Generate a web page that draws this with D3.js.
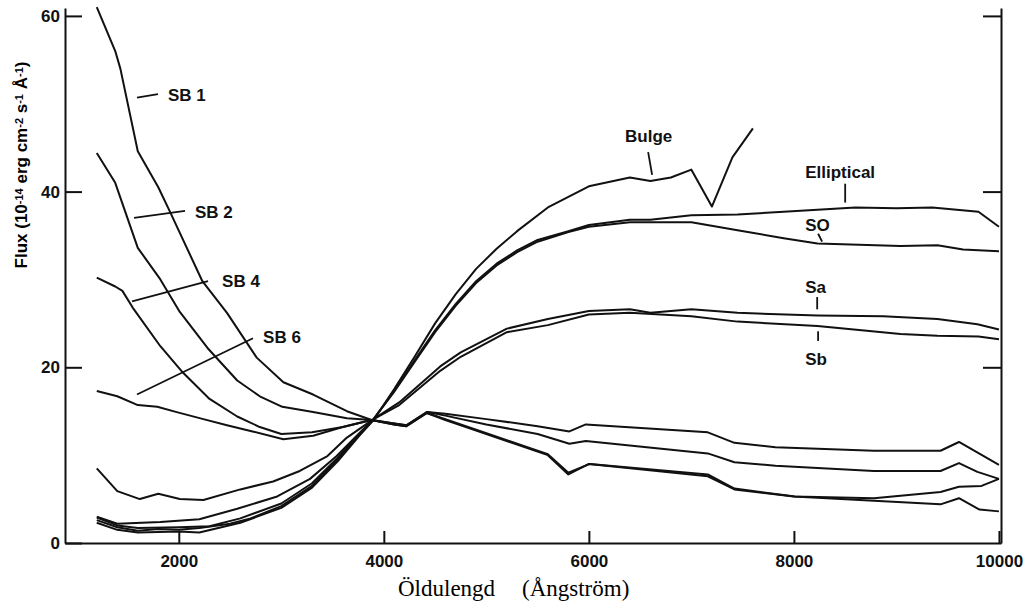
<!DOCTYPE html>
<html>
<head>
<meta charset="utf-8">
<script src="https://cdn.jsdelivr.net/npm/d3@7"></script>
<style>
  body { margin: 0; background: #fff; }
  .curve { fill: none; stroke: #111; stroke-width: 2; stroke-linejoin: round; }
  .leader { stroke: #111; stroke-width: 1.8; }
  .lbl { font-family: 'Liberation Sans', Arial, sans-serif; font-weight: bold; font-size: 17px; fill: #111; }
  .axis text { font-family: 'Liberation Sans', Arial, sans-serif; font-weight: bold; font-size: 17px; fill: #111; }
  .axis path, .axis line { stroke: #111; stroke-width: 2; }
</style>
</head>
<body>
<div id="chart"></div>
<script>
'use strict';

//#region data - [wavelength (Angstrom), flux]
const sb1 = [[1200,61],[1380,56],[1430,54],[1600,44.6],[1800,40.5],[1910,37.8],[2230,29.8],[2470,26.2],[2760,21.1],[3020,18.3],[3310,16.9],[3640,15.0],[3880,14.0],
  [4100,13.5],[4220,13.3],[4420,14.8],[4600,14.0],[5000,12.4],[5400,10.8],[5600,10.0],[5800,7.8],[6000,9.0],[7160,7.6],[7420,6.1],[8000,5.3],[8780,4.8],[9430,4.4],[9610,5.1],[9810,3.8],[10000,3.6]];
const sb2 = [[1200,44.4],[1380,41.0],[1600,33.6],[1820,30.0],[2010,26.3],[2280,22.2],[2570,18.5],[2790,16.7],[3010,15.5],[3310,14.9],[3640,14.2],[3880,14.0],
  [4100,13.5],[4220,13.3],[4420,14.8],[4600,14.1],[5000,12.5],[5400,10.9],[5600,10.1],[5800,8.0],[6010,9.0],[7160,7.8],[7420,6.2],[8010,5.3],[8780,5.1],[9430,5.8],[9610,6.4],[9830,6.5],[10000,7.3]];
const sb4 = [[1200,30.2],[1380,29.2],[1450,28.7],[1550,26.8],[1820,22.4],[2040,19.4],[2300,16.4],[2570,14.4],[2790,13.2],[3000,12.4],[3300,12.6],[3600,13.2],[3880,14.0],
  [4100,13.6],[4220,13.4],[4420,14.9],[4600,14.5],[5000,13.5],[5500,12.4],[5810,11.3],[5970,11.6],[7160,10.2],[7420,9.2],[7820,8.8],[8780,8.2],[9430,8.2],[9610,9.1],[9790,8.1],[10000,7.3]];
const sb6 = [[1200,17.3],[1400,16.7],[1600,15.7],[1790,15.5],[1980,14.9],[2240,14.1],[2470,13.4],[2720,12.7],[3020,11.8],[3310,12.2],[3600,13.2],[3880,14.0],
  [4100,13.6],[4220,13.4],[4420,14.9],[4600,14.7],[5000,14.1],[5500,13.3],[5810,12.7],[5970,13.5],[7160,12.6],[7420,11.4],[7820,10.9],[8780,10.5],[9430,10.5],[9610,11.5],[10000,8.9]];

const elliptical = [[1200,2.6],[1400,1.8],[1600,1.4],[1800,1.6],[2000,1.5],[2200,1.7],[2500,2.2],[2700,2.8],[3000,4.2],[3300,6.5],[3550,9.5],[3760,12.3],[3900,14.1],
  [4100,17.3],[4300,20.8],[4500,24.2],[4700,27.2],[4900,29.8],[5100,31.8],[5300,33.3],[5500,34.5],[5800,35.5],[6000,36.2],[6400,36.8],[6600,36.8],[7000,37.3],[7450,37.4],[7900,37.7],[8600,38.2],[9000,38.1],[9350,38.2],[9800,37.7],[10000,36.0]];
const s0 = [[1200,2.9],[1400,2.0],[1600,1.7],[2000,1.8],[2300,1.9],[2600,2.8],[3000,4.5],[3300,6.8],[3550,9.7],[3760,12.4],[3900,14.1],
  [4100,17.2],[4300,20.6],[4500,24.0],[4700,27.0],[4900,29.6],[5100,31.6],[5300,33.1],[5500,34.3],[5800,35.4],[6000,36.0],[6400,36.5],[7000,36.5],[7450,35.6],[7900,34.7],[8230,34.1],[9040,33.8],[9400,33.9],[9650,33.4],[10000,33.2]];
const bulge = [[1200,2.3],[1400,1.5],[1600,1.2],[2000,1.3],[2200,1.2],[2600,2.3],[3000,4.0],[3300,6.3],[3550,9.3],[3760,12.2],[3900,14.0],
  [4100,17.5],[4300,21.2],[4500,25.0],[4700,28.3],[4900,31.2],[5100,33.5],[5300,35.5],[5600,38.2],[6000,40.6],[6400,41.6],[6600,41.2],[6800,41.6],[7000,42.5],[7200,38.3],[7400,43.9],[7600,47.2]];
const sa = [[1200,3.0],[1400,2.2],[1820,2.4],[2200,2.7],[2570,3.9],[2960,5.3],[3280,7.3],[3540,9.9],[3770,12.6],[3900,14.1],
  [4150,16.0],[4550,20.1],[4750,21.7],[5200,24.4],[5600,25.5],[6000,26.4],[6400,26.6],[6600,26.2],[7000,26.6],[7450,26.2],[8230,25.9],[8870,25.8],[9400,25.5],[9790,24.9],[10000,24.3]];
const sb = [[1200,8.5],[1400,5.9],[1620,5.0],[1800,5.6],[2010,5.0],[2240,4.9],[2600,6.1],[2920,7.0],[3180,8.2],[3450,9.9],[3640,12.0],[3900,14.1],
  [4150,15.7],[4550,19.6],[4750,21.2],[5200,24.0],[5600,24.8],[6000,26.0],[6400,26.2],[7000,25.8],[7450,25.2],[8230,24.7],[9040,23.8],[9400,23.6],[9800,23.5],[10000,23.2]];

const seriesNames = ['SB 1', 'SB 2', 'SB 4', 'SB 6', 'Bulge', 'Elliptical', 'SO', 'Sa', 'Sb'];
const seriesData  = [sb1, sb2, sb4, sb6, bulge, elliptical, s0, sa, sb];

//label anchor [x, y] and leader line [x1, y1, x2, y2], data units
const labelPos = [[1895,50.3],[2158,37.0],[2422,29.1],[2822,22.8],[6353,45.6],[8110,41.5],[8110,35.5],[8110,28.5],[8110,20.3]];
const leaders  = [[1592,50.7,1797,51.1],[1563,37.0,2061,37.8],[1544,27.5,2285,29.8],[1592,16.9,2724,23.3],
  [6578,44.5,6617,41.9],[8500,40.9,8500,38.75],[8236,35.2,8275,34.3],[8227,28.0,8227,26.6],[8236,24.1,8236,23.0]];

const xTicks = [2000, 4000, 6000, 8000, 10000];
const yTicks = [0, 20, 40, 60];
//#endregion

const width = 1029, height = 608;
const margin = {top: 8, right: 28, bottom: 65, left: 65};

const svg = d3.select('#chart').append('svg').attr('width', width).attr('height', height);

const x = d3.scaleLinear().domain([890, 10020]).range([margin.left, width - margin.right]);
const y = d3.scaleLinear().domain([0, 60.9]).range([height - margin.bottom, margin.top]);

//axes - ticks point inward, no top frame
svg.append('g').attr('class', 'axis').attr('transform', `translate(0,${y(0)})`)
  .call(d3.axisBottom(x).tickValues(xTicks).tickFormat(d3.format('d')).tickSizeInner(-12).tickSizeOuter(0).tickPadding(12));

svg.append('g').attr('class', 'axis').attr('transform', `translate(${x.range()[0]},0)`)
  .call(d3.axisLeft(y).tickValues(yTicks).tickSizeInner(-17).tickSizeOuter(0).tickPadding(5));

svg.append('g').attr('class', 'axis').attr('transform', `translate(${x.range()[1]},0)`)
  .call(d3.axisRight(y).tickValues(yTicks.slice(1)).tickFormat('').tickSizeInner(-18).tickSizeOuter(0));

svg.selectAll('.axis .domain').attr('stroke-width', 2.2);

//the spectra
const line = d3.line().x(d => x(d[0])).y(d => y(d[1]));

svg.append('g').selectAll('path').data(seriesData).join('path')
  .attr('class', 'curve').attr('d', line);

//leader lines and labels
svg.append('g').selectAll('line').data(leaders).join('line')
  .attr('class', 'leader')
  .attr('x1', d => x(d[0])).attr('y1', d => y(d[1]))
  .attr('x2', d => x(d[2])).attr('y2', d => y(d[3]));

svg.append('g').selectAll('text').data(labelPos).join('text')
  .attr('class', 'lbl')
  .attr('x', d => x(d[0])).attr('y', d => y(d[1]))
  .text((d, i) => seriesNames[i]);

//y axis title with superscripts
const yt = svg.append('text')
  .attr('transform', 'translate(27,165) rotate(-90)')
  .attr('text-anchor', 'middle')
  .style('font-family', "'Liberation Sans', Arial, sans-serif")
  .style('font-weight', 'bold').style('font-size', '17px');
const ytParts = [['Flux (10', ''], ['-14', 'sup'], [' erg cm', ''], ['-2', 'sup'], [' s', ''], ['-1', 'sup'], [' Å', ''], ['-1', 'sup'], [')', '']];
ytParts.forEach(p => {
  const t = yt.append('tspan').text(p[0]);
  if (p[1] === 'sup') t.attr('baseline-shift', '40%').style('font-size', '11px');
});

//x axis title
const xt = svg.append('text')
  .attr('y', 596)
  .style('font-family', "'Liberation Serif', 'Times New Roman', serif")
  .style('font-size', '23px');
xt.append('tspan').attr('x', 398).text('Öldulengd');
xt.append('tspan').attr('x', 522).text('(Ångström)');
</script>
</body>
</html>
